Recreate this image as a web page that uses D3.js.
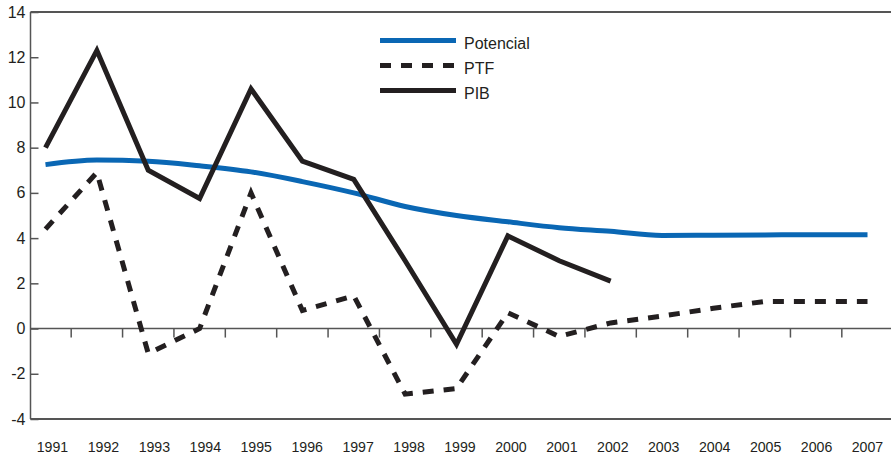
<!DOCTYPE html>
<html><head><meta charset="utf-8">
<script src="https://cdn.jsdelivr.net/npm/d3@7"></script>
<style>body{margin:0;background:#fff}svg{display:block;font-family:"Liberation Sans",Arial,sans-serif}</style>
</head><body><svg id="c" width="891" height="458"></svg>
<script>
const years = [1991,1992,1993,1994,1995,1996,1997,1998,1999,2000,2001,2002,2003,2004,2005,2006,2007];
const potencial = [7.25,7.45,7.4,7.2,6.93,6.5,6.0,5.4,5.0,4.72,4.46,4.3,4.12,4.13,4.14,4.15,4.15];
const ptf = [4.4,6.9,-1.1,0.0,6.0,0.8,1.45,-2.9,-2.65,0.7,-0.35,0.25,0.55,0.9,1.2,1.2,1.2];
const pib = [8.0,12.3,7.0,5.75,10.6,7.4,6.6,3.0,-0.7,4.1,3.0,2.1];
const yTicks = [14,12,10,8,6,4,2,0,-2,-4];
const legendLabels = ["Potencial","PTF","PIB"];

(function(){
const svg = d3.select("#c");
const mLeft = 30.5, mRight = 891, mTop = 12, mBottom = 419;
const x = d3.scalePoint().domain(years).range([45.5, 867.5]);
const xLab = d3.scalePoint().domain(years).range([52.5, 867.5]);
const y = d3.scaleLinear().domain([-4,14]).range([mBottom, mTop]);
const step = x.step();

const axisColor = "#555";
svg.append("line").attr("x1",mLeft).attr("x2",mRight).attr("y1",mTop).attr("y2",mTop).attr("stroke",axisColor).attr("stroke-width",2);
svg.append("line").attr("x1",mLeft).attr("x2",mRight).attr("y1",mBottom).attr("y2",mBottom).attr("stroke",axisColor).attr("stroke-width",2);
svg.append("line").attr("x1",mLeft).attr("x2",mLeft).attr("y1",mTop).attr("y2",mBottom).attr("stroke",axisColor).attr("stroke-width",1.5);

const ya = svg.append("g").attr("transform",`translate(${mLeft},0)`)
  .call(d3.axisRight(y).tickValues(yTicks).tickSize(8).tickFormat(""));
ya.select(".domain").remove();
ya.selectAll(".tick line").attr("stroke",axisColor).attr("stroke-width",1.5);
svg.append("g").selectAll("text").data(yTicks).join("text")
  .attr("x",25.5).attr("y",d=>y(d)).attr("dy","0.35em").attr("text-anchor","end")
  .attr("font-size",16).attr("fill","#231f20").text(d=>d);

svg.append("line").attr("x1",mLeft).attr("x2",mRight).attr("y1",y(0)).attr("y2",y(0)).attr("stroke",axisColor).attr("stroke-width",1.5);
const mids = years.slice(0,-1);
svg.append("g").selectAll("line").data(mids).join("line")
  .attr("x1",d=>x(d)+step/2).attr("x2",d=>x(d)+step/2)
  .attr("y1",y(0)).attr("y2",y(0)+9).attr("stroke",axisColor).attr("stroke-width",1.5);

svg.append("g").selectAll("text").data(years).join("text")
  .attr("x",d=>xLab(d)).attr("y",447).attr("dy","0.35em").attr("text-anchor","middle")
  .attr("font-size",15.5).attr("textLength",31.5).attr("lengthAdjust","spacingAndGlyphs")
  .attr("fill","#231f20").text(d=>d);

const black = "#231f20", blue = "#0a67b4";
const lineLin = d3.line().x((d,i)=>x(years[i])).y(d=>y(d));
const lineSmooth = d3.line().x((d,i)=>x(years[i])).y(d=>y(d)).curve(d3.curveMonotoneX);

svg.append("path").attr("d",lineSmooth(potencial)).attr("fill","none").attr("stroke",blue).attr("stroke-width",5);
svg.append("path").attr("d",lineLin(ptf)).attr("fill","none").attr("stroke",black).attr("stroke-width",5).attr("stroke-dasharray","11,10");
svg.append("path").attr("d",lineLin(pib)).attr("fill","none").attr("stroke",black).attr("stroke-width",5).attr("stroke-linejoin","miter");

const styles = [{c:blue,d:null},{c:black,d:"11,10"},{c:black,d:null}];
const lg = svg.append("g");
legendLabels.forEach((t,i)=>{
  const yy = 40.5 + i*25;
  lg.append("line").attr("x1",380).attr("x2",456).attr("y1",yy).attr("y2",yy)
    .attr("stroke",styles[i].c).attr("stroke-width",5).attr("stroke-dasharray",styles[i].d);
  lg.append("text").attr("x",464).attr("y",yy+3).attr("dy","0.35em").attr("font-size",16).attr("fill",black).text(t);
});
})();
</script></body></html>
